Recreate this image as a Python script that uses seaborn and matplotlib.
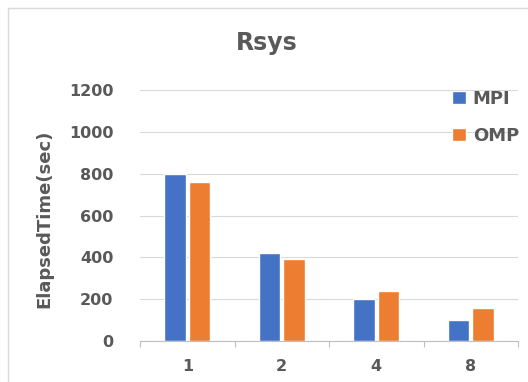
import matplotlib
matplotlib.use("Agg")
import matplotlib.pyplot as plt
import seaborn as sns
import pandas as pd
from matplotlib.lines import Line2D

# Elapsed time per process/thread count
counts = ["1", "2", "4", "8"]
mpi_times = [800, 420, 200, 100]
omp_times = [760, 390, 240, 160]
series_names = ["MPI", "OMP"]
series_colors = ["#4472C4", "#ED7D31"]
y_ticks = [0, 200, 400, 600, 800, 1000, 1200]

df = pd.DataFrame({
    "count": counts * 2,
    "time": mpi_times + omp_times,
    "series": [series_names[0]] * len(counts) + [series_names[1]] * len(counts),
})

sns.set_theme(style="white")
plt.rcParams["font.family"] = ["DejaVu Sans"]
text_gray = "#595959"

W, H = 528, 382
fig = plt.figure(figsize=(W / 100, H / 100), dpi=100)
ax = fig.add_axes([140 / W, 1 - 341 / H, (518 - 140) / W, (341 - 90) / H])

sns.barplot(data=df, x="count", y="time", hue="series", order=counts,
            hue_order=series_names, palette=series_colors, width=0.52,
            gap=0.11, saturation=1, ax=ax, legend=True)

ax.set_ylim(0, 1200)
ax.set_xlim(-0.5, len(counts) - 0.5)
ax.set_yticks(y_ticks)
ax.set_yticklabels([str(v) for v in y_ticks], fontsize=11.5,
                   fontweight="bold", color=text_gray)
ax.set_xticks(range(len(counts)))
ax.set_xticklabels(counts, fontsize=11.5, fontweight="bold", color=text_gray)
ax.set_xticks([i - 0.5 for i in range(len(counts) + 1)], minor=True)
ax.tick_params(axis="y", length=0, pad=19)
ax.tick_params(axis="x", which="major", length=0, pad=13)
ax.tick_params(axis="x", which="minor", length=4, width=0.8, color="#bfbfbf",
               direction="out", bottom=True)
ax.yaxis.grid(True, color="#d9d9d9", linewidth=0.8)
ax.set_axisbelow(True)
for side in ["top", "right", "left"]:
    ax.spines[side].set_visible(False)
ax.spines["bottom"].set_color("#bfbfbf")
ax.spines["bottom"].set_linewidth(0.8)

ax.set_xlabel("")
ax.set_ylabel("ElapsedTime(sec)", fontsize=13, fontweight="bold",
              color=text_gray)
ax.yaxis.set_label_coords(0, 0.5)
ax.yaxis.label.set_transform(fig.transFigure)
ax.yaxis.label.set_position((53 / W, 1 - 219 / H))

# Chart frame (left and top edges)
frame_color = "#d9d9d9"
fig.add_artist(Line2D([7.5 / W, 7.5 / W], [0, 1 - 7.5 / H],
                      transform=fig.transFigure, color=frame_color, lw=1.0))
fig.add_artist(Line2D([7.5 / W, 1], [1 - 7.5 / H, 1 - 7.5 / H],
                      transform=fig.transFigure, color=frame_color, lw=1.0))

fig.text(267 / W, 1 - 43 / H, "Rsys", ha="center", va="center",
         fontsize=17, fontweight="bold", color=text_gray)

handles, labels = ax.get_legend_handles_labels()
leg = ax.legend(handles, labels, loc="upper left",
                bbox_to_anchor=(452 / W, 1 - 90 / H),
                bbox_transform=fig.transFigure, frameon=False,
                handlelength=0.75, handleheight=0.75, handletextpad=0.4,
                labelspacing=1.05, borderpad=0, borderaxespad=0,
                prop={"size": 13, "weight": "bold"})
for t in leg.get_texts():
    t.set_color(text_gray)

fig.savefig("out.png", dpi=100, facecolor="white")
